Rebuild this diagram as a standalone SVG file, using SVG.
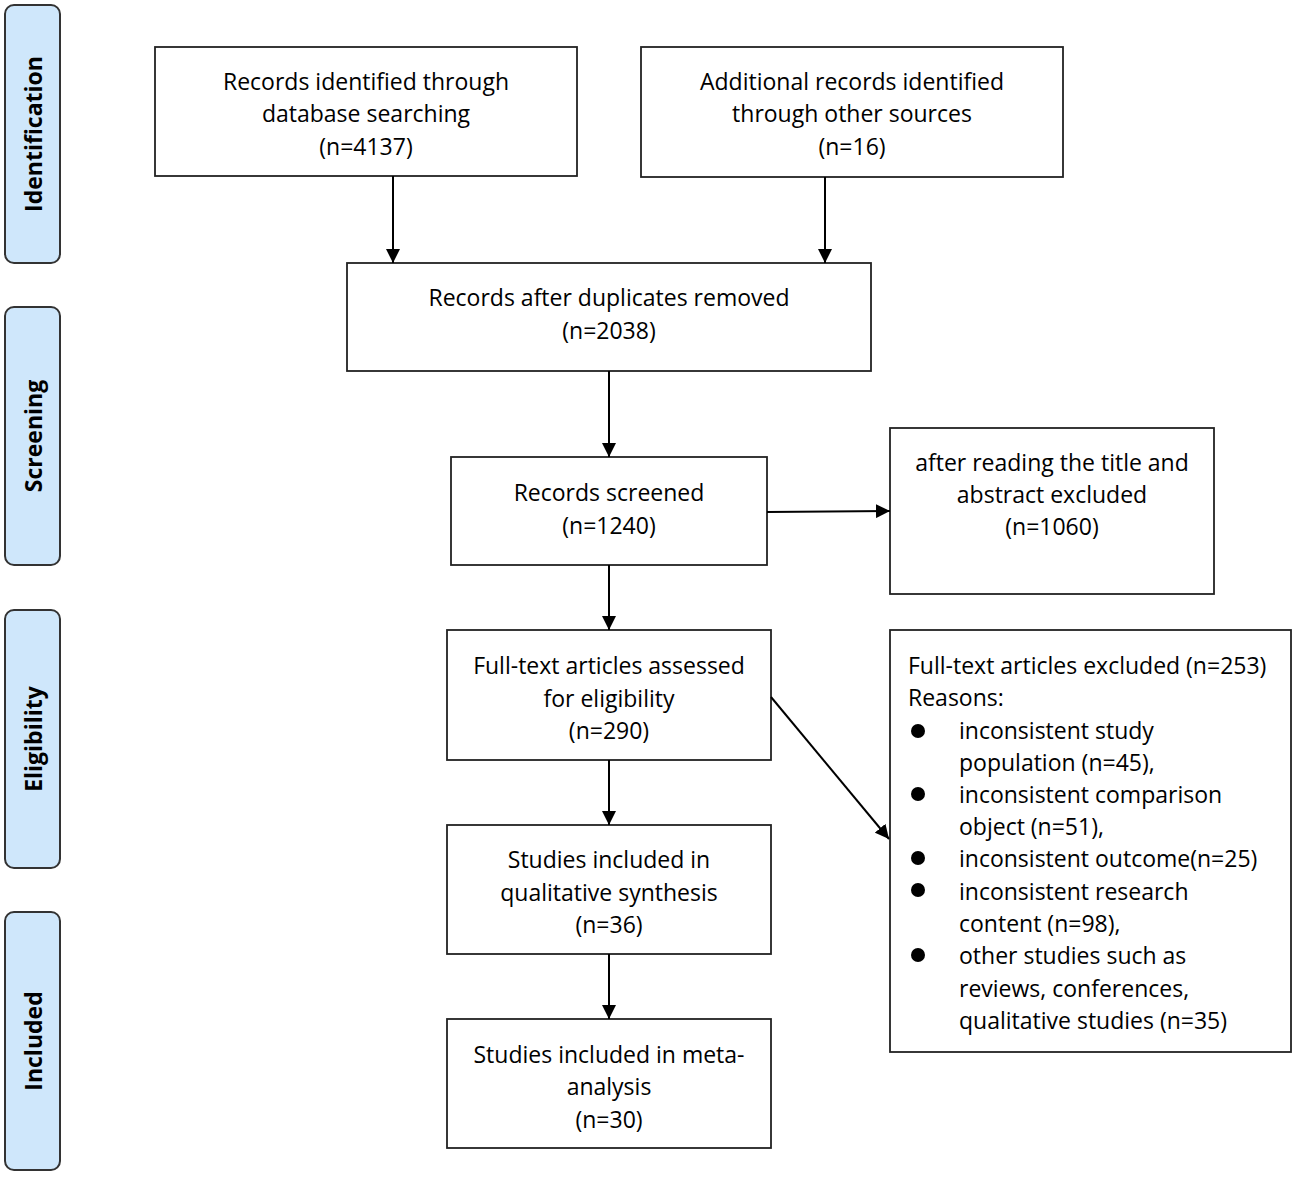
<svg xmlns="http://www.w3.org/2000/svg" width="1299" height="1179" viewBox="0 0 1299 1179">
<defs>
<marker id="ah" markerWidth="14" markerHeight="14" refX="14" refY="7" orient="auto" markerUnits="userSpaceOnUse">
<path d="M0,0 L14,7 L0,14 Z" fill="#000"/>
</marker>
<style>
.box{fill:#fff;stroke:#222;stroke-width:1.8}
.band{fill:#cfe7fb;stroke:#333;stroke-width:2}
.t{font-family:"Open Sans","Liberation Sans",sans-serif;font-size:23px;fill:#000}
.c{text-anchor:middle}
.lb{font-family:"Open Sans","Liberation Sans",sans-serif;font-size:23px;font-weight:bold;fill:#000;text-anchor:middle}
.cn{stroke:#000;stroke-width:2;fill:none;marker-end:url(#ah)}
</style>
</defs>
<rect width="1299" height="1179" fill="#fff"/>
<g id="band-identification"><rect class="band" x="5" y="5" width="55" height="258" rx="9"/><text class="lb" transform="translate(42,134) rotate(-90)">Identification</text></g>
<g id="band-screening"><rect class="band" x="5" y="307" width="55" height="258" rx="9"/><text class="lb" transform="translate(42,436) rotate(-90)">Screening</text></g>
<g id="band-eligibility"><rect class="band" x="5" y="610" width="55" height="258" rx="9"/><text class="lb" transform="translate(42,739) rotate(-90)">Eligibility</text></g>
<g id="band-included"><rect class="band" x="5" y="912" width="55" height="258" rx="9"/><text class="lb" transform="translate(42,1041) rotate(-90)">Included</text></g>

<g id="n-db"><rect class="box" x="155" y="47" width="422" height="129"/>
<text class="t c" x="366" y="90">Records identified through</text>
<text class="t c" x="366" y="122">database searching</text>
<text class="t c" x="366" y="155">(n=4137)</text></g>
<g id="n-other"><rect class="box" x="641" y="47" width="422" height="130"/>
<text class="t c" x="852" y="90">Additional records identified</text>
<text class="t c" x="852" y="122">through other sources</text>
<text class="t c" x="852" y="155">(n=16)</text></g>
<g id="n-dup"><rect class="box" x="347" y="263" width="524" height="108"/>
<text class="t c" x="609" y="306">Records after duplicates removed</text>
<text class="t c" x="609" y="339">(n=2038)</text></g>
<g id="n-screened"><rect class="box" x="451" y="457" width="316" height="108"/>
<text class="t c" x="609" y="501">Records screened</text>
<text class="t c" x="609" y="534">(n=1240)</text></g>
<g id="n-excl1"><rect class="box" x="890" y="428" width="324" height="166"/>
<text class="t c" x="1052" y="471">after reading the title and</text>
<text class="t c" x="1052" y="503">abstract excluded</text>
<text class="t c" x="1052" y="535">(n=1060)</text></g>
<g id="n-full"><rect class="box" x="447" y="630" width="324" height="130"/>
<text class="t c" x="609" y="674">Full-text articles assessed</text>
<text class="t c" x="609" y="707">for eligibility</text>
<text class="t c" x="609" y="739">(n=290)</text></g>
<g id="n-excl2"><rect class="box" x="890" y="630" width="401" height="422"/>
<text class="t" x="908" y="674">Full-text articles excluded (n=253)</text>
<text class="t" x="908" y="706">Reasons:</text>
<circle cx="918" cy="731" r="7" fill="#000"/>
<text class="t" x="959" y="739">inconsistent study</text>
<text class="t" x="959" y="771">population (n=45),</text>
<circle cx="918" cy="794" r="7" fill="#000"/>
<text class="t" x="959" y="803">inconsistent comparison</text>
<text class="t" x="959" y="835">object (n=51),</text>
<circle cx="918" cy="858" r="7" fill="#000"/>
<text class="t" x="959" y="867">inconsistent outcome(n=25)</text>
<circle cx="918" cy="890" r="7" fill="#000"/>
<text class="t" x="959" y="900">inconsistent research</text>
<text class="t" x="959" y="932">content (n=98),</text>
<circle cx="918" cy="955" r="7" fill="#000"/>
<text class="t" x="959" y="964">other studies such as</text>
<text class="t" x="959" y="997">reviews, conferences,</text>
<text class="t" x="959" y="1029">qualitative studies (n=35)</text></g>
<g id="n-qual"><rect class="box" x="447" y="825" width="324" height="129"/>
<text class="t c" x="609" y="868">Studies included in</text>
<text class="t c" x="609" y="901">qualitative synthesis</text>
<text class="t c" x="609" y="933">(n=36)</text></g>
<g id="n-meta"><rect class="box" x="447" y="1019" width="324" height="129"/>
<text class="t c" x="609" y="1063">Studies included in meta-</text>
<text class="t c" x="609" y="1095">analysis</text>
<text class="t c" x="609" y="1128">(n=30)</text></g>

<g id="connectors">
<line class="cn" x1="393" y1="176" x2="393" y2="263"/>
<line class="cn" x1="825" y1="177" x2="825" y2="263"/>
<line class="cn" x1="609" y1="371" x2="609" y2="457"/>
<line class="cn" x1="767" y1="512" x2="890" y2="511"/>
<line class="cn" x1="609" y1="565" x2="609" y2="630"/>
<line class="cn" x1="771" y1="697" x2="889" y2="839"/>
<line class="cn" x1="609" y1="760" x2="609" y2="825"/>
<line class="cn" x1="609" y1="954" x2="609" y2="1019"/>
</g>
</svg>
